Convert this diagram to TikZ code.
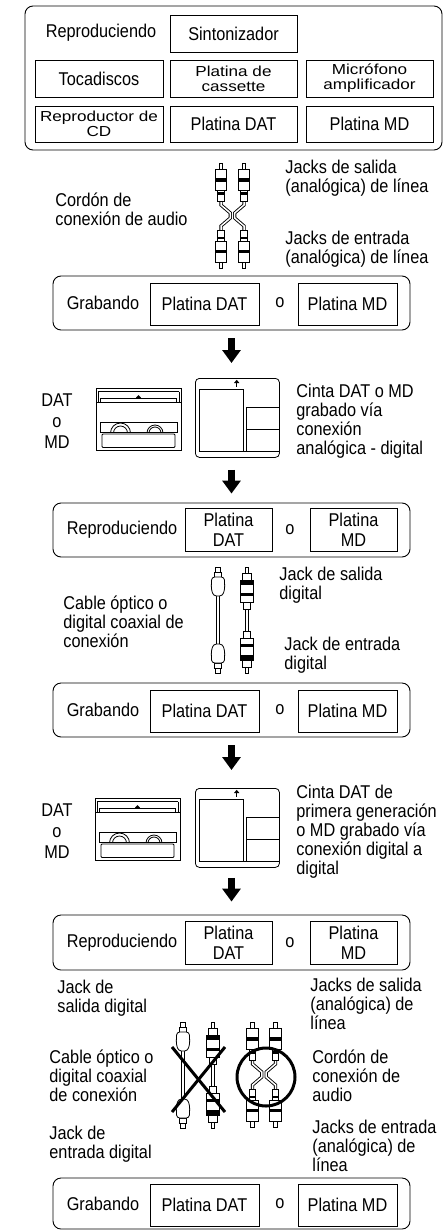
\documentclass[tikz,border=0pt]{standalone}
\usepackage{fontspec}
\setmainfont{Liberation Sans}[FakeStretch=0.88]
\newfontfamily\widefont{Liberation Sans}[FakeStretch=1.18]
\usetikzlibrary{arrows.meta}
\tikzset{grp/.style={draw, rounded corners=8, line width=0.9pt, inner sep=0pt}}
\tikzset{dev/.style={draw, line width=0.9pt, inner sep=1pt, align=center}}
\tikzset{lbl/.style={anchor=west, align=left, inner sep=0pt}}
\tikzset{small/.style={font=\widefont\fontsize{14.5pt}{15pt}\selectfont}}
\tikzset{bigarr/.style={draw, line width=6.5pt, -{Triangle[width=18pt,length=13pt]}}}
\tikzset{wire/.style={line width=0.9pt, double=white, double distance=1.5pt}}
\tikzset{plug/.style={draw, line width=0.8pt, fill=white}}
\tikzset{nope/.style={line width=3pt}}
\tikzset{
  rcaplug/.pic={
    \draw[plug] (-1.7,0) rectangle (1.7,6);
    \draw[plug] (-5.7,6) rectangle (5.7,27);
    \fill (-5.7,15) rectangle (5.7,18.5);
    \draw[plug] (-3.3,27) rectangle (3.3,38);
    \fill (-3.3,29) rectangle (3.3,31.5);
  },
  rcapair/.pic={
    \draw[wire] (-11.5,37) -- (-11.5,42) -- (-2.2,50) -- (-2.2,55) -- (-11.5,63) -- (-11.5,68);
    \draw[wire] (11.5,37) -- (11.5,42) -- (2.2,50) -- (2.2,55) -- (11.5,63) -- (11.5,68);
    \pic at (-11.5,0) {rcaplug};
    \pic at (11.5,0) {rcaplug};
    \pic[yscale=-1] at (-11.5,105) {rcaplug};
    \pic[yscale=-1] at (11.5,105) {rcaplug};
  },
  optplug/.pic={
    \draw[plug] (-2.3,0) rectangle (2.3,5);
    \draw[plug] (-3.5,5) rectangle (3.5,10);
    \draw[plug, rounded corners=3] (-6.3,10) -- (-6.8,22) -- (-4.5,29) -- (4.5,29) -- (6.8,22) -- (6.3,10) -- cycle;
  },
  coaxplug/.pic={
    \draw[plug] (-1.7,0) rectangle (1.7,6);
    \draw[plug] (-4.3,6) rectangle (4.3,13);
    \draw[plug] (-6.5,13) rectangle (6.5,35);
    \fill (-6.5,13.5) rectangle (6.5,18);
    \fill (-6.5,26) rectangle (6.5,29);
    \draw[plug] (-3.3,35) rectangle (3.3,42);
  },
  optcable/.pic={
    \draw[wire] (0,28) -- (0,78);
    \pic at (0,0) {optplug};
    \pic[yscale=-1] at (0,106) {optplug};
  },
  coaxcable/.pic={
    \draw[wire] (0,41) -- (0,65);
    \pic at (0,0) {coaxplug};
    \pic[yscale=-1] at (0,106) {coaxplug};
  },
  datcas/.pic={
    \node[draw, minimum width=85pt, minimum height=62pt, anchor=north west, inner sep=0pt] (-body) at (0,0) {};
    \draw (2,3.5) -- (83,3.5);
    \draw (2,3.5) -- (2,14.3);
    \draw (83,3.5) -- (83,14.3);
    \draw (0,14.3) -- (85,14.3);
    \draw (4.5,10.5) rectangle (80.5,14.3);
    \fill (42.5,7) -- (39.5,10.3) -- (45.5,10.3) -- cycle;
    \draw (4,34) rectangle (81,44);
    \begin{scope}
      \clip (4,34) rectangle (81,44);
      \draw (24.5,45) circle[radius=10pt];
      \draw (24.5,45) circle[radius=7pt];
      \draw (59,45) circle[radius=8pt];
      \draw (59,45) circle[radius=6pt];
    \end{scope}
    \draw[rounded corners=1] (6,46) rectangle (79,59.5);
  },
  mdisc/.pic={
    \node[draw, rounded corners=4, minimum width=84pt, minimum height=79pt, anchor=north west, inner sep=0pt] (-body) at (0,0) {};
    \draw (4,11.3) rectangle (48.3,73.7);
    \draw (84,29.3) -- (51,29.3) -- (51,73.7);
    \draw (51,51.3) -- (84,51.3);
    \draw (4,73.7) -- (84,73.7);
    \draw (41.7,8.7) -- (41.7,4);
    \fill (41.7,1.8) -- (39,5) -- (44.4,5) -- cycle;
  },
}

\begin{document}
\begin{tikzpicture}[x=1pt, y=-1pt, line width=0.8pt,
    every node/.style={font=\fontsize{18.5pt}{19pt}\selectfont}]
  \useasboundingbox (0,0) rectangle (447,1231);

  % sources
  \node[grp, minimum width=417pt, minimum height=144pt] (pb0) at (233.5,78) {};
  \node (pb0txt) at (101,33) {Reproduciendo};
  \node[dev, minimum width=127pt, minimum height=37pt] (tuner) at (233.5,33.5) {Sintonizador};
  \node[dev, minimum width=128pt, minimum height=37pt] (turn) at (99,78.5) {Tocadiscos};
  \node[dev, small, minimum width=127pt, minimum height=37pt] (cass) at (233.5,78.5) {Platina de\\cassette};
  \node[dev, small, minimum width=127pt, minimum height=37pt] (mic) at (369.5,78.5) {Micrófono\\amplificador};
  \node[dev, small, minimum width=128pt, minimum height=36pt] (cd) at (99,124) {Reproductor de\\CD};
  \node[dev, minimum width=127pt, minimum height=36pt] (pb0dat) at (233.5,124) {Platina DAT};
  \node[dev, minimum width=127pt, minimum height=36pt] (pb0md) at (369.5,124) {Platina MD};

  \pic (rca1) at (232.5,163) {rcapair};
  \node[lbl] (out1) at (285,178.5) {Jacks de salida\\(analógica) de línea};
  \node[lbl] (cord1) at (55,209) {Cordón de\\conexión de audio};
  \node[lbl] (in1) at (285,249.5) {Jacks de entrada\\(analógica) de línea};

  \node[grp, minimum width=357pt, minimum height=54pt] (rec1) at (231.5,303) {};
  \node (rec1txt) at (103,303) {Grabando};
  \node[dev, minimum width=109pt, minimum height=42pt] (rec1dat) at (204.5,304) {Platina DAT};
  \node (rec1o) at (280,303) {o};
  \node[dev, minimum width=99pt, minimum height=42pt] (rec1md) at (347.5,304) {Platina MD};

  % first copy
  \node[align=center, font=\fontsize{18.5pt}{21pt}\selectfont] (dm1) at (57,421) {DAT\\o\\MD};
  \pic (cas1) at (96,388) {datcas};
  \pic (md1) at (195,378) {mdisc};
  \node[lbl] (tape1) at (296,421) {Cinta DAT o MD\\grabado vía\\conexión\\analógica - digital};
  \draw[bigarr, shorten <=8pt, shorten >=15pt] (rec1.south) -- (rec1.south |- md1-body.north);

  \node[grp, minimum width=357pt, minimum height=54pt] (pb2) at (231.5,530) {};
  \node (pb2txt) at (122,530) {Reproduciendo};
  \node[dev, minimum width=87pt, minimum height=43pt, font=\fontsize{18.5pt}{20pt}\selectfont] (pb2dat) at (228.5,529.5) {Platina\\DAT};
  \node (pb2o) at (290,530) {o};
  \node[dev, minimum width=87pt, minimum height=43pt, font=\fontsize{18.5pt}{20pt}\selectfont] (pb2md) at (353.5,529.5) {Platina\\MD};
  \draw[bigarr, shorten <=12pt, shorten >=9pt] (pb2.north |- md1-body.south) -- (pb2.north);

  \pic (opt1) at (218,567) {optcable};
  \pic (coax1) at (247,567) {coaxcable};
  \node[lbl] (dout1) at (279,585) {Jack de salida\\digital};
  \node[lbl] (dcab1) at (63,622) {Cable óptico o\\digital coaxial de\\conexión};
  \node[lbl] (din1) at (284,655) {Jack de entrada\\digital};

  \node[grp, minimum width=357pt, minimum height=54pt] (rec2) at (231.5,710) {};
  \node (rec2txt) at (103,710) {Grabando};
  \node[dev, minimum width=109pt, minimum height=42pt] (rec2dat) at (204.5,711) {Platina DAT};
  \node (rec2o) at (280,710) {o};
  \node[dev, minimum width=99pt, minimum height=42pt] (rec2md) at (347.5,711) {Platina MD};

  % second copy
  \node[align=center, font=\fontsize{18.5pt}{21pt}\selectfont] (dm2) at (57,831) {DAT\\o\\MD};
  \pic (cas2) at (95,798) {datcas};
  \pic (md2) at (195,788) {mdisc};
  \node[lbl] (tape2) at (296,832) {Cinta DAT de\\primera generación\\o MD grabado vía\\conexión digital a\\digital};
  \draw[bigarr, shorten <=8pt, shorten >=18pt] (rec2.south) -- (rec2.south |- md2-body.north);

  \node[grp, minimum width=357pt, minimum height=55pt] (pb3) at (231.5,942.5) {};
  \node (pb3txt) at (122,942.5) {Reproduciendo};
  \node[dev, minimum width=87pt, minimum height=43pt, font=\fontsize{18.5pt}{20pt}\selectfont] (pb3dat) at (228.5,943) {Platina\\DAT};
  \node (pb3o) at (290,942.5) {o};
  \node[dev, minimum width=87pt, minimum height=43pt, font=\fontsize{18.5pt}{20pt}\selectfont] (pb3md) at (353.5,943) {Platina\\MD};
  \draw[bigarr, shorten <=10pt, shorten >=13pt] (pb3.north |- md2-body.south) -- (pb3.north);

  \pic (opt2) at (183,1022) {optcable};
  \pic (coax2) at (213,1022) {coaxcable};
  \pic (rca2) at (264,1022) {rcapair};
  \draw[nope] (172,1047) -- (225,1112);
  \draw[nope] (225,1047) -- (172,1112);
  \draw[nope] (266,1077) circle[radius=29pt];
  \node[lbl] (dout2) at (57,998) {Jack de\\salida digital};
  \node[lbl] (out2) at (310,1004) {Jacks de salida\\(analógica) de\\línea};
  \node[lbl] (dcab2) at (49,1076) {Cable óptico o\\digital coaxial\\de conexión};
  \node[lbl] (cord2) at (312,1076) {Cordón de\\conexión de\\audio};
  \node[lbl] (din2) at (49,1144) {Jack de\\entrada digital};
  \node[lbl] (in2) at (312,1146) {Jacks de entrada\\(analógica) de\\línea};

  \node[grp, minimum width=357pt, minimum height=51pt] (rec3) at (231.5,1203.5) {};
  \node (rec3txt) at (103,1203.5) {Grabando};
  \node[dev, minimum width=109pt, minimum height=42pt] (rec3dat) at (204.5,1205) {Platina DAT};
  \node (rec3o) at (280,1203.5) {o};
  \node[dev, minimum width=99pt, minimum height=42pt] (rec3md) at (347.5,1205) {Platina MD};
\end{tikzpicture}
\end{document}
